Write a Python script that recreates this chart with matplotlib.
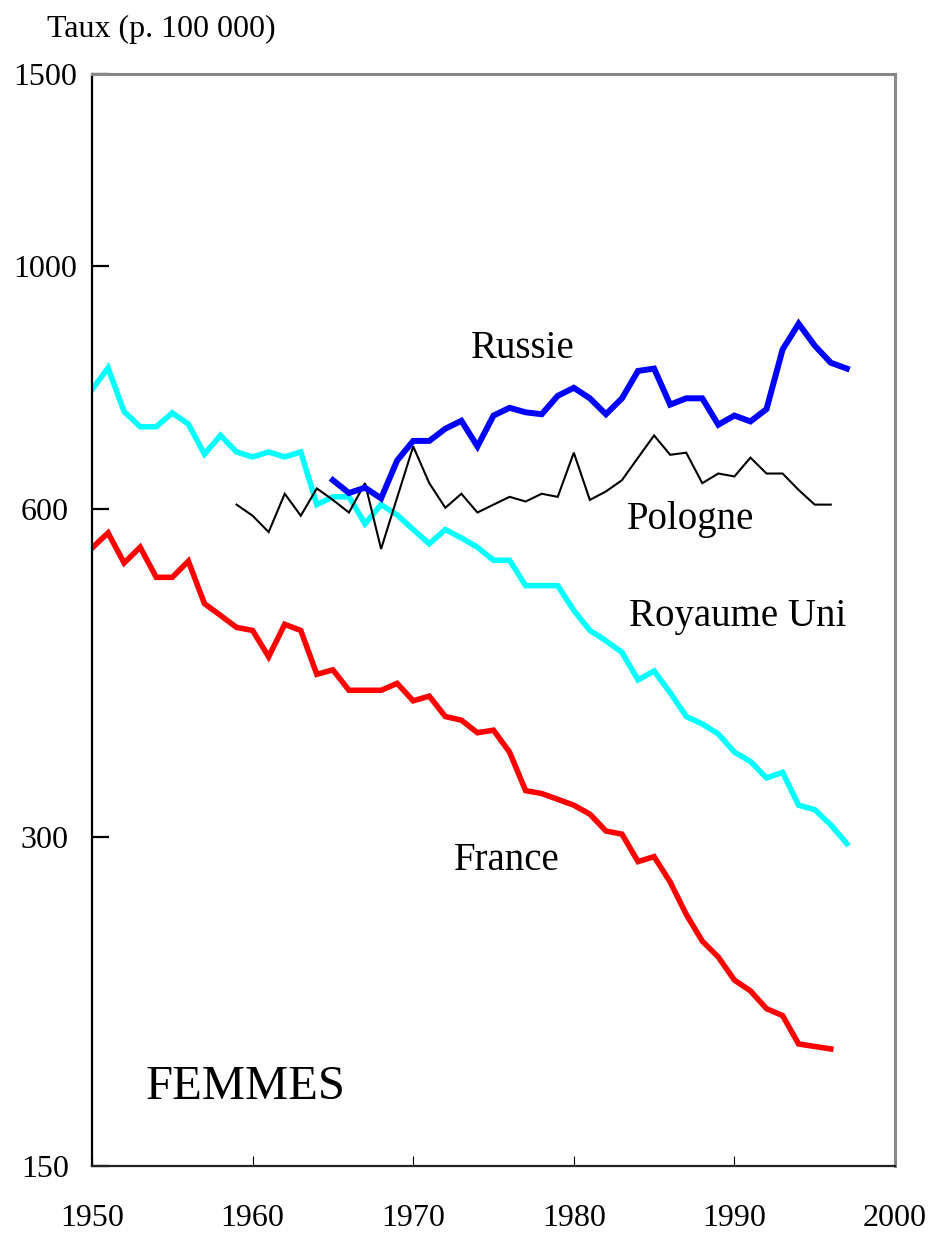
import matplotlib
matplotlib.use("Agg")
import matplotlib.pyplot as plt
from matplotlib.ticker import NullLocator

plt.rcParams['font.family'] = ['Liberation Serif', 'DejaVu Serif']

years_france = list(range(1950, 1997))
france = [552, 570, 535, 553, 519, 519, 537, 491, 479, 467, 464, 439, 470, 464, 423,
          427, 409, 409, 409, 415, 400, 404, 387, 384, 374, 376, 359, 331, 329, 325,
          321, 315, 304, 302, 285, 288, 273, 255, 241, 233, 222, 217, 209, 206, 194,
          193, 192]

years_uk = list(range(1950, 1998))
uk = [771, 807, 736, 713, 713, 734, 717, 673, 700, 676, 669, 676, 669, 676, 605,
      615, 615, 581, 605, 592, 574, 557, 574, 564, 553, 538, 538, 510, 510, 510,
      484, 464, 454, 443, 418, 426, 407, 387, 381, 373, 359, 352, 340, 344, 321,
      318, 308, 296]

years_russia = list(range(1965, 1998))
russia = [637, 620, 627, 613, 664, 692, 692, 710, 722, 684, 730, 742, 735, 732, 761,
          774, 757, 732, 757, 802, 806, 747, 757, 757, 716, 730, 721, 740, 839, 886,
          846, 816, 806]

years_poland = list(range(1959, 1997))
poland = [605, 591, 571, 619, 591, 626, 611, 595, 633, 551, 614, 684, 633, 601, 619,
          595, 605, 615, 609, 619, 615, 675, 611, 622, 637, 668, 700, 672, 675, 633,
          646, 642, 668, 646, 646, 624, 605, 605]

y_ticks = [150, 300, 600, 1000, 1500]
y_tick_labels = ["150", "300", "600", "1000", "1500"]
y_tick_colors = ["#ffff00", "#000000", "#800080", "#800000", "#008080"]
x_ticks = [1950, 1960, 1970, 1980, 1990, 2000]

fig = plt.figure(figsize=(9.31, 12.33), dpi=100)
ax = fig.add_axes([92 / 931, 1 - 1166 / 1233, (895 - 92) / 931, (1166 - 74) / 1233])

ax.plot(years_france, france, color="#ff0000", lw=4.0, solid_joinstyle="miter")
ax.plot(years_uk, uk, color="#00ffff", lw=4.0, solid_joinstyle="miter")
ax.plot(years_poland, poland, color="#000000", lw=1.5, solid_joinstyle="miter")
ax.plot(years_russia, russia, color="#0000ff", lw=4.3, solid_joinstyle="miter")

ax.set_yscale("log")
ax.set_ylim(150, 1500)
ax.set_xlim(1950, 2000)
ax.yaxis.set_minor_locator(NullLocator())
ax.set_yticks(y_ticks)
ax.set_yticklabels(y_tick_labels, ha="center")
ax.set_xticks(x_ticks)

ax.tick_params(axis="y", direction="in", length=12, width=1.6, labelsize=23, pad=34)
ax.tick_params(axis="x", direction="in", length=7, width=0.8, labelsize=23, pad=27)
for t, c in zip(ax.yaxis.get_major_ticks(), y_tick_colors):
    t.tick1line.set_color(c)

for side in ["top", "right"]:
    ax.spines[side].set_color("#888888")
    ax.spines[side].set_linewidth(2.2)
ax.spines["left"].set_color("black")
ax.spines["left"].set_linewidth(1.6)
ax.spines["bottom"].set_color("#222222")
ax.spines["bottom"].set_linewidth(1.6)

ax.text(0.537, 0.749, "Russie", transform=ax.transAxes, fontsize=28, ha="center", va="center")
ax.text(0.745, 0.592, "Pologne", transform=ax.transAxes, fontsize=28, ha="center", va="center")
ax.text(0.669, 0.503, "Royaume Uni", transform=ax.transAxes, fontsize=28, ha="left", va="center")
ax.text(0.516, 0.280, "France", transform=ax.transAxes, fontsize=28, ha="center", va="center")
ax.text(0.067, 0.072, "FEMMES", transform=ax.transAxes, fontsize=35, ha="left", va="center")

fig.text(47 / 931, 1 - 29 / 1233, "Taux (p. 100 000)", fontsize=23, ha="left", va="center")

fig.savefig("out.png", dpi=100)
